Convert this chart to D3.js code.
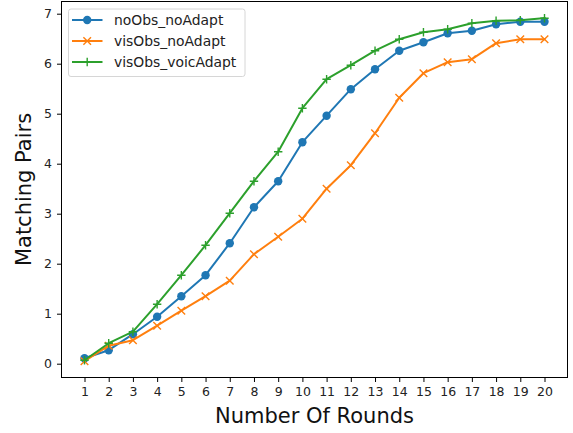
<!DOCTYPE html>
<html>
<head>
<meta charset="utf-8">
<script src="https://cdn.jsdelivr.net/npm/d3@7"></script>
<style>
  html, body { margin: 0; padding: 0; background: #fff; }
  svg { display: block; }
</style>
</head>
<body>
<svg id="chart" width="573" height="433"></svg>
<script>
const rounds = [1,2,3,4,5,6,7,8,9,10,11,12,13,14,15,16,17,18,19,20];
const seriesNames = ["noObs_noAdapt", "visObs_noAdapt", "visObs_voicAdapt"];
const noObs_noAdapt   = [0.11,0.27,0.59,0.94,1.35,1.77,2.41,3.13,3.65,4.43,4.96,5.49,5.89,6.26,6.43,6.61,6.66,6.79,6.84,6.84];
const visObs_noAdapt  = [0.05,0.36,0.47,0.76,1.06,1.35,1.66,2.19,2.54,2.90,3.50,3.97,4.61,5.32,5.81,6.03,6.09,6.41,6.49,6.49];
const visObs_voicAdapt= [0.07,0.41,0.64,1.19,1.77,2.37,3.01,3.65,4.24,5.11,5.69,5.97,6.26,6.49,6.63,6.69,6.81,6.86,6.87,6.91];
const yTicks = [0,1,2,3,4,5,6,7];
const colors = ["#1f77b4", "#ff7f0e", "#2ca02c"];
const markers = ["circle", "x", "plus"];
const xLabel = "Number Of Rounds";
const yLabel = "Matching Pairs";

const seriesValues = [noObs_noAdapt, visObs_noAdapt, visObs_voicAdapt];
const font = "'DejaVu Sans', sans-serif";

const svg = d3.select("#chart");
const pLeft = 61.5, pRight = 567.5, pTop = 1.5, pBottom = 377.5;

const x = d3.scaleLinear().domain([0.05, 20.95]).range([pLeft, pRight]);
const y = d3.scaleLinear().domain([-0.276, 7.244]).range([pBottom, pTop]);

// Axes
const xAxis = d3.axisBottom(x).tickValues(rounds).tickFormat(d3.format("d")).tickSize(4.5).tickPadding(5);
const yAxis = d3.axisLeft(y).tickValues(yTicks).tickFormat(d3.format("d")).tickSize(4.5).tickPadding(5);

const gx = svg.append("g").attr("transform", `translate(0,${pBottom})`).call(xAxis);
const gy = svg.append("g").attr("transform", `translate(${pLeft},0)`).call(yAxis);
[gx, gy].forEach(g => {
  g.select(".domain").remove();
  g.selectAll(".tick line").attr("stroke", "#000").attr("stroke-width", 1);
  g.selectAll(".tick text").attr("fill", "#222").style("font-family", font).style("font-size", "12.5px");
});

// plot lines and markers
const line = d3.line().x((d, i) => x(rounds[i])).y(d => y(d));

function drawMarker(g, type, cx, cy, color) {
  if (type === "circle") {
    g.append("circle").attr("cx", cx).attr("cy", cy).attr("r", 4.2).attr("fill", color);
  } else if (type === "x") {
    const s = 3.8;
    g.append("path").attr("d", `M${cx-s},${cy-s}L${cx+s},${cy+s}M${cx-s},${cy+s}L${cx+s},${cy-s}`)
      .attr("stroke", color).attr("stroke-width", 1.4).attr("fill", "none");
  } else {
    const s = 4.2;
    g.append("path").attr("d", `M${cx-s},${cy}L${cx+s},${cy}M${cx},${cy-s}L${cx},${cy+s}`)
      .attr("stroke", color).attr("stroke-width", 1.4).attr("fill", "none");
  }
}

seriesValues.forEach((vals, si) => {
  const g = svg.append("g");
  g.append("path").datum(vals).attr("d", line)
    .attr("fill", "none").attr("stroke", colors[si]).attr("stroke-width", 2)
    .attr("stroke-linejoin", "round").attr("stroke-linecap", "square");
  vals.forEach((v, i) => drawMarker(g, markers[si], x(rounds[i]), y(v), colors[si]));
});

// frame
svg.append("rect").attr("x", pLeft).attr("y", pTop).attr("width", pRight-pLeft).attr("height", pBottom-pTop)
  .attr("fill", "none").attr("stroke", "#000").attr("stroke-width", 1);

// Legend
const lg = svg.append("g");
lg.append("rect").attr("x", 68.5).attr("y", 9).attr("width", 176.5).attr("height", 67.5)
  .attr("rx", 2.5).attr("fill", "#fff").attr("fill-opacity", 0.8).attr("stroke", "#d6d6d6").attr("stroke-width", 1);
const rowsY = [20, 41, 62];
seriesNames.forEach((name, i) => {
  lg.append("line").attr("x1", 72).attr("x2", 102.5).attr("y1", rowsY[i]).attr("y2", rowsY[i])
    .attr("stroke", colors[i]).attr("stroke-width", 2);
  drawMarker(lg, markers[i], 87.2, rowsY[i], colors[i]);
  lg.append("text").attr("x", 114).attr("y", rowsY[i]).attr("dy", "0.36em")
    .style("font-family", font).style("font-size", "13.9px").attr("fill", "#222").text(name);
});

// Axis labels
svg.append("text").attr("x", (pLeft+pRight)/2).attr("y", 423).attr("text-anchor", "middle")
  .style("font-family", font).style("font-size", "21px").attr("fill", "#111").text(xLabel);
svg.append("text").attr("transform", `translate(31,${(pTop+pBottom)/2}) rotate(-90)`).attr("text-anchor", "middle")
  .style("font-family", font).style("font-size", "21px").attr("fill", "#111").text(yLabel);
</script>
</body>
</html>
